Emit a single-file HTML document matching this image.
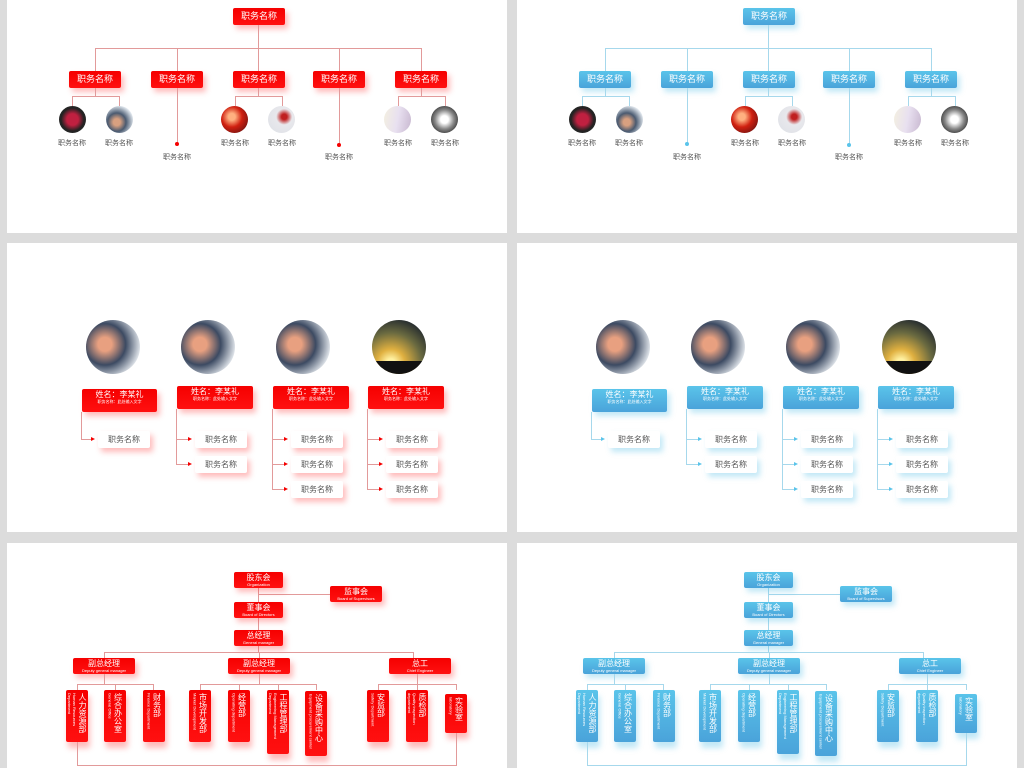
<!DOCTYPE html>
<html><head><meta charset="utf-8"><style>
*{margin:0;padding:0;box-sizing:border-box}
body{width:1024px;height:768px;background:#dcdcdc;position:relative;overflow:hidden;font-family:"Liberation Sans","Noto Sans CJK SC",sans-serif}
.p{position:absolute;background:#fff;width:500px;overflow:hidden}
.red{--c:#f50000;--c2:#ff1010;--lc:#e29a9a;--s:rgba(255,60,60,.35)}
.blue{--c:#5ac4ea;--c2:#4aa3da;--lc:#a6d8ec;--s:rgba(80,190,230,.35)}
.bx{position:absolute;background:linear-gradient(var(--c),var(--c2));color:#fff;border-radius:2px;text-align:center;font-size:9px;box-shadow:3px 4px 6px var(--s);white-space:nowrap;overflow:hidden}
.l{position:absolute;background:var(--lc)}
.lb{position:absolute;width:50px;text-align:center;font-size:7px;color:#555;white-space:nowrap}
.c{position:absolute;border-radius:50%}
.dot{position:absolute;width:4px;height:4px;border-radius:50%;background:var(--c)}
.wb{position:absolute;width:52px;height:17px;background:#fff;border-radius:2px;box-shadow:3px 4px 6px var(--s);font-size:8px;color:#555;text-align:center;line-height:17px}
.ar{position:absolute;width:0;height:0;border-left:4px solid var(--c);border-top:2px solid transparent;border-bottom:2px solid transparent}
.nb{line-height:9px;padding-top:1px}
.nb b{display:block;font-weight:normal;font-size:8px}
.nb i{display:block;font-style:normal;font-size:4px;line-height:6px}
.vb{position:absolute;width:22px;background:linear-gradient(var(--c),var(--c2));color:#fff;border-radius:2px;box-shadow:2px 6px 6px var(--s);overflow:hidden;display:flex;flex-direction:row-reverse;justify-content:center;padding-top:3px}
.vb b{writing-mode:vertical-rl;font-weight:normal;font-size:8px;line-height:10px}
.vb i{writing-mode:vertical-rl;font-style:normal;font-size:4px;line-height:5px}
.ph1{background:radial-gradient(circle at 50% 50%,#c02040 0 30%,#222 60%,#333)}
.ph2{background:radial-gradient(circle at 40% 60%,#d8a080 0 15%,#4a5a70 40%,#e8eef4 75%)}
.ph3{background:radial-gradient(circle at 40% 40%,#ffb080 0 15%,#d02010 45%,#601010 90%)}
.ph4{background:radial-gradient(circle at 60% 40%,#c02020 0 12%,#e8e8ec 35%,#dde0e6)}
.ph5{background:linear-gradient(100deg,#f4f0e0,#e8e0f0 50%,#c8b8d0)}
.ph6{background:radial-gradient(circle at 50% 50%,#fff 0 20%,#888 50%,#333 80%,#fff)}
.ph7{background:radial-gradient(circle at 35% 45%,#e8a080 0 15%,#3c4a62 45%,#eef2f6 80%)}
.ph8{background:radial-gradient(circle at 35% 80%,#fff0a0 0 8%,#e0b040 25%,#6a6a40 55%,#2a3030 80%);}
.ph8:after{content:"";position:absolute;left:0;right:0;bottom:0;height:25%;background:#111}
</style></head><body>

<!-- PANEL 1 red -->
<div class="p red" style="left:7px;top:0;height:233px">
<div class="bx" style="left:226px;top:8px;width:52px;height:17px;line-height:17px">职务名称</div>
<div class="l" style="left:251px;top:25px;width:1px;height:46px"></div>
<div class="l" style="left:88px;top:48px;width:327px;height:1px"></div>
<div class="l" style="left:88px;top:48px;width:1px;height:23px"></div>
<div class="l" style="left:170px;top:48px;width:1px;height:23px"></div>
<div class="l" style="left:332px;top:48px;width:1px;height:23px"></div>
<div class="l" style="left:414px;top:48px;width:1px;height:23px"></div>
<div class="bx" style="left:62px;top:71px;width:52px;height:17px;line-height:17px">职务名称</div>
<div class="bx" style="left:144px;top:71px;width:52px;height:17px;line-height:17px">职务名称</div>
<div class="bx" style="left:226px;top:71px;width:52px;height:17px;line-height:17px">职务名称</div>
<div class="bx" style="left:306px;top:71px;width:52px;height:17px;line-height:17px">职务名称</div>
<div class="bx" style="left:388px;top:71px;width:52px;height:17px;line-height:17px">职务名称</div>
<div class="l" style="left:88px;top:88px;width:1px;height:9px"></div>
<div class="l" style="left:65px;top:96px;width:48px;height:1px"></div>
<div class="l" style="left:65px;top:96px;width:1px;height:10px"></div>
<div class="l" style="left:112px;top:96px;width:1px;height:10px"></div>
<div class="c ph1" style="left:52px;top:106px;width:27px;height:27px"></div>
<div class="c ph2" style="left:99px;top:106px;width:27px;height:27px"></div>
<div class="lb" style="left:40px;top:138px">职务名称</div>
<div class="lb" style="left:87px;top:138px">职务名称</div>
<div class="l" style="left:170px;top:88px;width:1px;height:56px"></div>
<div class="dot" style="left:168px;top:142px"></div>
<div class="lb" style="left:145px;top:152px">职务名称</div>
<div class="l" style="left:251px;top:88px;width:1px;height:9px"></div>
<div class="l" style="left:228px;top:96px;width:48px;height:1px"></div>
<div class="l" style="left:228px;top:96px;width:1px;height:10px"></div>
<div class="l" style="left:275px;top:96px;width:1px;height:10px"></div>
<div class="c ph3" style="left:214px;top:106px;width:27px;height:27px"></div>
<div class="c ph4" style="left:261px;top:106px;width:27px;height:27px"></div>
<div class="lb" style="left:203px;top:138px">职务名称</div>
<div class="lb" style="left:250px;top:138px">职务名称</div>
<div class="l" style="left:332px;top:88px;width:1px;height:57px"></div>
<div class="dot" style="left:330px;top:143px"></div>
<div class="lb" style="left:307px;top:152px">职务名称</div>
<div class="l" style="left:414px;top:88px;width:1px;height:9px"></div>
<div class="l" style="left:391px;top:96px;width:48px;height:1px"></div>
<div class="l" style="left:391px;top:96px;width:1px;height:10px"></div>
<div class="l" style="left:438px;top:96px;width:1px;height:10px"></div>
<div class="c ph5" style="left:377px;top:106px;width:27px;height:27px"></div>
<div class="c ph6" style="left:424px;top:106px;width:27px;height:27px"></div>
<div class="lb" style="left:366px;top:138px">职务名称</div>
<div class="lb" style="left:413px;top:138px">职务名称</div>
</div>

<!-- PANEL 1 blue -->
<div class="p blue" style="left:517px;top:0;height:233px">
<div class="bx" style="left:226px;top:8px;width:52px;height:17px;line-height:17px">职务名称</div>
<div class="l" style="left:251px;top:25px;width:1px;height:46px"></div>
<div class="l" style="left:88px;top:48px;width:327px;height:1px"></div>
<div class="l" style="left:88px;top:48px;width:1px;height:23px"></div>
<div class="l" style="left:170px;top:48px;width:1px;height:23px"></div>
<div class="l" style="left:332px;top:48px;width:1px;height:23px"></div>
<div class="l" style="left:414px;top:48px;width:1px;height:23px"></div>
<div class="bx" style="left:62px;top:71px;width:52px;height:17px;line-height:17px">职务名称</div>
<div class="bx" style="left:144px;top:71px;width:52px;height:17px;line-height:17px">职务名称</div>
<div class="bx" style="left:226px;top:71px;width:52px;height:17px;line-height:17px">职务名称</div>
<div class="bx" style="left:306px;top:71px;width:52px;height:17px;line-height:17px">职务名称</div>
<div class="bx" style="left:388px;top:71px;width:52px;height:17px;line-height:17px">职务名称</div>
<div class="l" style="left:88px;top:88px;width:1px;height:9px"></div>
<div class="l" style="left:65px;top:96px;width:48px;height:1px"></div>
<div class="l" style="left:65px;top:96px;width:1px;height:10px"></div>
<div class="l" style="left:112px;top:96px;width:1px;height:10px"></div>
<div class="c ph1" style="left:52px;top:106px;width:27px;height:27px"></div>
<div class="c ph2" style="left:99px;top:106px;width:27px;height:27px"></div>
<div class="lb" style="left:40px;top:138px">职务名称</div>
<div class="lb" style="left:87px;top:138px">职务名称</div>
<div class="l" style="left:170px;top:88px;width:1px;height:56px"></div>
<div class="dot" style="left:168px;top:142px"></div>
<div class="lb" style="left:145px;top:152px">职务名称</div>
<div class="l" style="left:251px;top:88px;width:1px;height:9px"></div>
<div class="l" style="left:228px;top:96px;width:48px;height:1px"></div>
<div class="l" style="left:228px;top:96px;width:1px;height:10px"></div>
<div class="l" style="left:275px;top:96px;width:1px;height:10px"></div>
<div class="c ph3" style="left:214px;top:106px;width:27px;height:27px"></div>
<div class="c ph4" style="left:261px;top:106px;width:27px;height:27px"></div>
<div class="lb" style="left:203px;top:138px">职务名称</div>
<div class="lb" style="left:250px;top:138px">职务名称</div>
<div class="l" style="left:332px;top:88px;width:1px;height:57px"></div>
<div class="dot" style="left:330px;top:143px"></div>
<div class="lb" style="left:307px;top:152px">职务名称</div>
<div class="l" style="left:414px;top:88px;width:1px;height:9px"></div>
<div class="l" style="left:391px;top:96px;width:48px;height:1px"></div>
<div class="l" style="left:391px;top:96px;width:1px;height:10px"></div>
<div class="l" style="left:438px;top:96px;width:1px;height:10px"></div>
<div class="c ph5" style="left:377px;top:106px;width:27px;height:27px"></div>
<div class="c ph6" style="left:424px;top:106px;width:27px;height:27px"></div>
<div class="lb" style="left:366px;top:138px">职务名称</div>
<div class="lb" style="left:413px;top:138px">职务名称</div>
</div>

<!-- PANEL 2 red -->
<div class="p red" style="left:7px;top:243px;height:289px">
<div class="c ph7" style="left:79px;top:77px;width:54px;height:54px"></div>
<div class="c ph7" style="left:174px;top:77px;width:54px;height:54px"></div>
<div class="c ph7" style="left:269px;top:77px;width:54px;height:54px"></div>
<div class="c ph8" style="left:365px;top:77px;width:54px;height:54px;overflow:hidden"></div>
<div class="bx nb" style="left:75px;top:146px;width:75px;height:23px"><b>姓名：李某礼</b><i>职务名称：此处输入文字</i></div>
<div class="bx nb" style="left:170px;top:143px;width:76px;height:23px"><b>姓名：李某礼</b><i>职务名称：此处输入文字</i></div>
<div class="bx nb" style="left:266px;top:143px;width:76px;height:23px"><b>姓名：李某礼</b><i>职务名称：此处输入文字</i></div>
<div class="bx nb" style="left:361px;top:143px;width:76px;height:23px"><b>姓名：李某礼</b><i>职务名称：此处输入文字</i></div>
<div class="l" style="left:74px;top:169px;width:1px;height:27px"></div>
<div class="l" style="left:74px;top:196px;width:12px;height:1px"></div><div class="ar" style="left:84px;top:194px"></div>
<div class="wb" style="left:91px;top:188px">职务名称</div>
<div class="l" style="left:169px;top:166px;width:1px;height:55px"></div>
<div class="l" style="left:169px;top:196px;width:13px;height:1px"></div><div class="ar" style="left:181px;top:194px"></div>
<div class="l" style="left:169px;top:221px;width:13px;height:1px"></div><div class="ar" style="left:181px;top:219px"></div>
<div class="wb" style="left:188px;top:188px">职务名称</div>
<div class="wb" style="left:188px;top:213px">职务名称</div>
<div class="l" style="left:265px;top:166px;width:1px;height:80px"></div>
<div class="l" style="left:265px;top:196px;width:13px;height:1px"></div><div class="ar" style="left:277px;top:194px"></div>
<div class="l" style="left:265px;top:221px;width:13px;height:1px"></div><div class="ar" style="left:277px;top:219px"></div>
<div class="l" style="left:265px;top:246px;width:13px;height:1px"></div><div class="ar" style="left:277px;top:244px"></div>
<div class="wb" style="left:284px;top:188px">职务名称</div>
<div class="wb" style="left:284px;top:213px">职务名称</div>
<div class="wb" style="left:284px;top:238px">职务名称</div>
<div class="l" style="left:360px;top:166px;width:1px;height:80px"></div>
<div class="l" style="left:360px;top:196px;width:13px;height:1px"></div><div class="ar" style="left:372px;top:194px"></div>
<div class="l" style="left:360px;top:221px;width:13px;height:1px"></div><div class="ar" style="left:372px;top:219px"></div>
<div class="l" style="left:360px;top:246px;width:13px;height:1px"></div><div class="ar" style="left:372px;top:244px"></div>
<div class="wb" style="left:379px;top:188px">职务名称</div>
<div class="wb" style="left:379px;top:213px">职务名称</div>
<div class="wb" style="left:379px;top:238px">职务名称</div>
</div>

<!-- PANEL 2 blue -->
<div class="p blue" style="left:517px;top:243px;height:289px">
<div class="c ph7" style="left:79px;top:77px;width:54px;height:54px"></div>
<div class="c ph7" style="left:174px;top:77px;width:54px;height:54px"></div>
<div class="c ph7" style="left:269px;top:77px;width:54px;height:54px"></div>
<div class="c ph8" style="left:365px;top:77px;width:54px;height:54px;overflow:hidden"></div>
<div class="bx nb" style="left:75px;top:146px;width:75px;height:23px"><b>姓名：李某礼</b><i>职务名称：此处输入文字</i></div>
<div class="bx nb" style="left:170px;top:143px;width:76px;height:23px"><b>姓名：李某礼</b><i>职务名称：此处输入文字</i></div>
<div class="bx nb" style="left:266px;top:143px;width:76px;height:23px"><b>姓名：李某礼</b><i>职务名称：此处输入文字</i></div>
<div class="bx nb" style="left:361px;top:143px;width:76px;height:23px"><b>姓名：李某礼</b><i>职务名称：此处输入文字</i></div>
<div class="l" style="left:74px;top:169px;width:1px;height:27px"></div>
<div class="l" style="left:74px;top:196px;width:12px;height:1px"></div><div class="ar" style="left:84px;top:194px"></div>
<div class="wb" style="left:91px;top:188px">职务名称</div>
<div class="l" style="left:169px;top:166px;width:1px;height:55px"></div>
<div class="l" style="left:169px;top:196px;width:13px;height:1px"></div><div class="ar" style="left:181px;top:194px"></div>
<div class="l" style="left:169px;top:221px;width:13px;height:1px"></div><div class="ar" style="left:181px;top:219px"></div>
<div class="wb" style="left:188px;top:188px">职务名称</div>
<div class="wb" style="left:188px;top:213px">职务名称</div>
<div class="l" style="left:265px;top:166px;width:1px;height:80px"></div>
<div class="l" style="left:265px;top:196px;width:13px;height:1px"></div><div class="ar" style="left:277px;top:194px"></div>
<div class="l" style="left:265px;top:221px;width:13px;height:1px"></div><div class="ar" style="left:277px;top:219px"></div>
<div class="l" style="left:265px;top:246px;width:13px;height:1px"></div><div class="ar" style="left:277px;top:244px"></div>
<div class="wb" style="left:284px;top:188px">职务名称</div>
<div class="wb" style="left:284px;top:213px">职务名称</div>
<div class="wb" style="left:284px;top:238px">职务名称</div>
<div class="l" style="left:360px;top:166px;width:1px;height:80px"></div>
<div class="l" style="left:360px;top:196px;width:13px;height:1px"></div><div class="ar" style="left:372px;top:194px"></div>
<div class="l" style="left:360px;top:221px;width:13px;height:1px"></div><div class="ar" style="left:372px;top:219px"></div>
<div class="l" style="left:360px;top:246px;width:13px;height:1px"></div><div class="ar" style="left:372px;top:244px"></div>
<div class="wb" style="left:379px;top:188px">职务名称</div>
<div class="wb" style="left:379px;top:213px">职务名称</div>
<div class="wb" style="left:379px;top:238px">职务名称</div>
</div>

<!-- PANEL 3 red -->
<div class="p red" style="left:7px;top:543px;height:225px">
<div class="l" style="left:251px;top:45px;width:1px;height:64px"></div>
<div class="l" style="left:251px;top:51px;width:72px;height:1px"></div>
<div class="bx nb" style="left:227px;top:29px;width:49px;height:16px"><b>股东会</b><i>Organization</i></div>
<div class="bx nb" style="left:323px;top:43px;width:52px;height:16px"><b>监事会</b><i>Board of Supervisors</i></div>
<div class="bx nb" style="left:227px;top:59px;width:49px;height:16px"><b>董事会</b><i>Board of Directors</i></div>
<div class="bx nb" style="left:227px;top:87px;width:49px;height:16px"><b>总经理</b><i>General manager</i></div>
<div class="l" style="left:97px;top:109px;width:310px;height:1px"></div>
<div class="l" style="left:97px;top:109px;width:1px;height:6px"></div>
<div class="l" style="left:252px;top:109px;width:1px;height:6px"></div>
<div class="l" style="left:406px;top:109px;width:1px;height:6px"></div>
<div class="bx nb" style="left:66px;top:115px;width:62px;height:16px"><b>副总经理</b><i>Deputy general manager</i></div>
<div class="bx nb" style="left:221px;top:115px;width:62px;height:16px"><b>副总经理</b><i>Deputy general manager</i></div>
<div class="bx nb" style="left:382px;top:115px;width:62px;height:16px"><b>总工</b><i>Chief Engineer</i></div>
<div class="l" style="left:97px;top:131px;width:1px;height:10px"></div>
<div class="l" style="left:252px;top:131px;width:1px;height:10px"></div>
<div class="l" style="left:410px;top:131px;width:1px;height:10px"></div>
<div class="l" style="left:70px;top:141px;width:76px;height:1px"></div>
<div class="l" style="left:193px;top:141px;width:117px;height:1px"></div>
<div class="l" style="left:371px;top:141px;width:79px;height:1px"></div>
<div class="l" style="left:70px;top:141px;width:1px;height:6px"></div><div class="l" style="left:108px;top:141px;width:1px;height:6px"></div><div class="l" style="left:146px;top:141px;width:1px;height:6px"></div>
<div class="l" style="left:193px;top:141px;width:1px;height:6px"></div><div class="l" style="left:232px;top:141px;width:1px;height:6px"></div><div class="l" style="left:271px;top:141px;width:1px;height:6px"></div><div class="l" style="left:309px;top:141px;width:1px;height:6px"></div>
<div class="l" style="left:371px;top:141px;width:1px;height:6px"></div><div class="l" style="left:410px;top:141px;width:1px;height:6px"></div><div class="l" style="left:449px;top:141px;width:1px;height:6px"></div>
<div class="vb" style="left:59px;top:147px;height:52px"><b>人力资源部</b><i>Human Resources Department</i></div>
<div class="vb" style="left:97px;top:147px;height:52px"><b>综合办公室</b><i>General Office</i></div>
<div class="vb" style="left:136px;top:147px;height:52px"><b>财务部</b><i>Finance Department</i></div>
<div class="vb" style="left:182px;top:147px;height:52px"><b>市场开发部</b><i>Market Development</i></div>
<div class="vb" style="left:221px;top:147px;height:52px"><b>经营部</b><i>Operating department</i></div>
<div class="vb" style="left:260px;top:147px;height:64px"><b>工程管理部</b><i>Engineering Management Department</i></div>
<div class="vb" style="left:298px;top:148px;height:65px"><b>设备采购中心</b><i>Equipment procurement center</i></div>
<div class="vb" style="left:360px;top:147px;height:52px"><b>安监部</b><i>Safety Department</i></div>
<div class="vb" style="left:399px;top:147px;height:52px"><b>质检部</b><i>Quality inspection department</i></div>
<div class="vb" style="left:438px;top:151px;height:39px"><b>实验室</b><i>laboratory</i></div>
<div class="l" style="left:70px;top:199px;width:1px;height:23px"></div>
<div class="l" style="left:449px;top:190px;width:1px;height:32px"></div>
<div class="l" style="left:70px;top:222px;width:380px;height:1px"></div>
</div>

<!-- PANEL 3 blue -->
<div class="p blue" style="left:517px;top:543px;height:225px">
<div class="l" style="left:251px;top:45px;width:1px;height:64px"></div>
<div class="l" style="left:251px;top:51px;width:72px;height:1px"></div>
<div class="bx nb" style="left:227px;top:29px;width:49px;height:16px"><b>股东会</b><i>Organization</i></div>
<div class="bx nb" style="left:323px;top:43px;width:52px;height:16px"><b>监事会</b><i>Board of Supervisors</i></div>
<div class="bx nb" style="left:227px;top:59px;width:49px;height:16px"><b>董事会</b><i>Board of Directors</i></div>
<div class="bx nb" style="left:227px;top:87px;width:49px;height:16px"><b>总经理</b><i>General manager</i></div>
<div class="l" style="left:97px;top:109px;width:310px;height:1px"></div>
<div class="l" style="left:97px;top:109px;width:1px;height:6px"></div>
<div class="l" style="left:252px;top:109px;width:1px;height:6px"></div>
<div class="l" style="left:406px;top:109px;width:1px;height:6px"></div>
<div class="bx nb" style="left:66px;top:115px;width:62px;height:16px"><b>副总经理</b><i>Deputy general manager</i></div>
<div class="bx nb" style="left:221px;top:115px;width:62px;height:16px"><b>副总经理</b><i>Deputy general manager</i></div>
<div class="bx nb" style="left:382px;top:115px;width:62px;height:16px"><b>总工</b><i>Chief Engineer</i></div>
<div class="l" style="left:97px;top:131px;width:1px;height:10px"></div>
<div class="l" style="left:252px;top:131px;width:1px;height:10px"></div>
<div class="l" style="left:410px;top:131px;width:1px;height:10px"></div>
<div class="l" style="left:70px;top:141px;width:76px;height:1px"></div>
<div class="l" style="left:193px;top:141px;width:117px;height:1px"></div>
<div class="l" style="left:371px;top:141px;width:79px;height:1px"></div>
<div class="l" style="left:70px;top:141px;width:1px;height:6px"></div><div class="l" style="left:108px;top:141px;width:1px;height:6px"></div><div class="l" style="left:146px;top:141px;width:1px;height:6px"></div>
<div class="l" style="left:193px;top:141px;width:1px;height:6px"></div><div class="l" style="left:232px;top:141px;width:1px;height:6px"></div><div class="l" style="left:271px;top:141px;width:1px;height:6px"></div><div class="l" style="left:309px;top:141px;width:1px;height:6px"></div>
<div class="l" style="left:371px;top:141px;width:1px;height:6px"></div><div class="l" style="left:410px;top:141px;width:1px;height:6px"></div><div class="l" style="left:449px;top:141px;width:1px;height:6px"></div>
<div class="vb" style="left:59px;top:147px;height:52px"><b>人力资源部</b><i>Human Resources Department</i></div>
<div class="vb" style="left:97px;top:147px;height:52px"><b>综合办公室</b><i>General Office</i></div>
<div class="vb" style="left:136px;top:147px;height:52px"><b>财务部</b><i>Finance Department</i></div>
<div class="vb" style="left:182px;top:147px;height:52px"><b>市场开发部</b><i>Market Development</i></div>
<div class="vb" style="left:221px;top:147px;height:52px"><b>经营部</b><i>Operating department</i></div>
<div class="vb" style="left:260px;top:147px;height:64px"><b>工程管理部</b><i>Engineering Management Department</i></div>
<div class="vb" style="left:298px;top:148px;height:65px"><b>设备采购中心</b><i>Equipment procurement center</i></div>
<div class="vb" style="left:360px;top:147px;height:52px"><b>安监部</b><i>Safety Department</i></div>
<div class="vb" style="left:399px;top:147px;height:52px"><b>质检部</b><i>Quality inspection department</i></div>
<div class="vb" style="left:438px;top:151px;height:39px"><b>实验室</b><i>laboratory</i></div>
<div class="l" style="left:70px;top:199px;width:1px;height:23px"></div>
<div class="l" style="left:449px;top:190px;width:1px;height:32px"></div>
<div class="l" style="left:70px;top:222px;width:380px;height:1px"></div>
</div>

</body></html>
